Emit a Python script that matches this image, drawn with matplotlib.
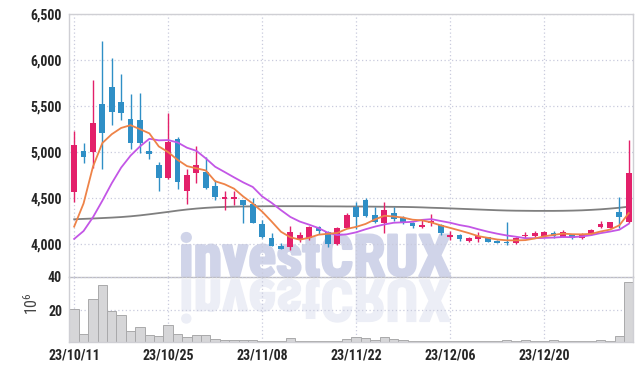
import numpy as np
import matplotlib
matplotlib.use("Agg")
import matplotlib.pyplot as plt
from matplotlib import font_manager
from matplotlib import patheffects
from matplotlib.textpath import TextPath
from matplotlib.patches import PathPatch
from matplotlib.font_manager import FontProperties
from matplotlib.transforms import Affine2D
from matplotlib.ticker import FuncFormatter

# daily candles
opens = [4566, 5005, 4999, 5525, 5706, 5546, 5361, 5350, 5013, 4860,
         4722, 5143, 4580, 4776, 4787, 4635, 4490, 4490, 4479, 4436,
         4218, 4069, 3978, 3964, 4054, 4062, 4182, 4134, 4000, 4178,
         4406, 4479, 4316, 4225, 4341, 4280, 4225, 4182, 4232, 4207,
         4080, 4098, 4036, 4051, 4073, 4033, 4025, 4007, 4087, 4087,
         4087, 4123, 4080, 4098, 4069, 4105, 4182, 4178, 4352, 4243]
closes = [5078, 4940, 5314, 5201, 5430, 5419, 5092, 5092, 4977, 4722,
          5107, 4672, 4751, 4860, 4606, 4515, 4515, 4510, 4425, 4232,
          4073, 3981, 3949, 4127, 4098, 4182, 4145, 4000, 4171, 4316,
          4291, 4308, 4243, 4370, 4276, 4232, 4196, 4207, 4254, 4116,
          4098, 4054, 4065, 4087, 4025, 4011, 4007, 4062, 4098, 4116,
          4127, 4087, 4134, 4062, 4109, 4152, 4218, 4236, 4297, 4770]
highs = [5223, 5097, 5786, 6203, 6022, 5848, 5630, 5641, 5122, 4896,
         5423, 5165, 4813, 5070, 4944, 4697, 4580, 4570, 4479, 4497,
         4261, 4116, 4014, 4196, 4127, 4196, 4196, 4145, 4180, 4341,
         4454, 4497, 4400, 4454, 4400, 4300, 4243, 4261, 4327, 4220,
         4145, 4105, 4080, 4134, 4080, 4040, 4236, 4073, 4134, 4140,
         4135, 4135, 4150, 4110, 4120, 4160, 4254, 4240, 4515, 5133]
lows = [4461, 4879, 4824, 4817, 5288, 5350, 5035, 4988, 4926, 4580,
        4710, 4599, 4436, 4661, 4595, 4472, 4370, 4425, 4225, 4232,
        4060, 3975, 3945, 3935, 4025, 4044, 4109, 3971, 3990, 4170,
        4160, 4290, 4225, 4116, 4250, 4220, 4171, 4170, 4196, 4098,
        4044, 4033, 4025, 4025, 4020, 4005, 3992, 4000, 4069, 4075,
        4070, 4065, 4070, 4055, 4051, 4100, 4175, 4170, 4171, 4230]

ma5 = [4188, 4440, 4840, 5097, 5193, 5261, 5291, 5247, 5202, 5060,
       4998, 4914, 4846, 4822, 4799, 4681, 4649, 4601, 4514, 4439,
       4351, 4244, 4132, 4072, 4046, 4067, 4100, 4110, 4119, 4163,
       4185, 4217, 4266, 4306, 4298, 4286, 4263, 4256, 4233, 4201,
       4174, 4146, 4117, 4084, 4066, 4048, 4039, 4038, 4041, 4059,
       4082, 4098, 4112, 4105, 4104, 4109, 4135, 4155, 4202, 4335]
ma10 = [4054, 4140, 4290, 4470, 4660, 4830, 4960, 5060, 5143, 5126,
        5129, 5103, 5046, 5012, 4930, 4839, 4782, 4724, 4668, 4619,
        4516, 4447, 4367, 4293, 4243, 4209, 4172, 4121, 4096, 4104,
        4126, 4159, 4188, 4212, 4230, 4235, 4240, 4261, 4269, 4249,
        4230, 4205, 4187, 4159, 4133, 4111, 4092, 4078, 4062, 4062,
        4065, 4069, 4075, 4073, 4081, 4095, 4117, 4134, 4154, 4219]
ma_long = [4268, 4272, 4276, 4281, 4286, 4292, 4300, 4310, 4322, 4335,
           4348, 4362, 4374, 4384, 4392, 4398, 4402, 4405, 4407, 4408,
           4409, 4410, 4410, 4410, 4410, 4410, 4409, 4408, 4408, 4407,
           4407, 4406, 4405, 4404, 4403, 4402, 4400, 4397, 4393, 4390,
           4386, 4382, 4378, 4374, 4370, 4366, 4363, 4361, 4360, 4359,
           4359, 4359, 4360, 4362, 4365, 4370, 4376, 4384, 4393, 4405]

# volume in millions
volume = [21.0, 6.0, 27.0, 35.4, 19.4, 17.0, 7.4, 9.8, 5.0, 4.4,
          11.0, 5.6, 4.0, 5.0, 5.0, 2.6, 2.3, 2.3, 2.2, 2.0,
          1.9, 1.8, 1.8, 3.5, 1.8, 1.8, 1.6, 1.8, 1.8, 2.8,
          4.0, 3.4, 2.2, 4.0, 2.6, 2.0, 1.6, 1.8, 1.8, 1.8,
          1.5, 1.5, 1.5, 1.5, 1.4, 1.4, 2.2, 1.4, 2.2, 1.4,
          1.4, 2.2, 1.4, 1.4, 1.4, 1.4, 2.0, 1.4, 4.6, 37.0]

tick_pos = [0, 10, 20, 30, 40, 50]
tick_labels = ["23/10/11", "23/10/25", "23/11/08", "23/11/22", "23/12/06", "23/12/20"]

UP = "#e3206a"
DOWN = "#2f8fc6"
GRID = "#c9cbdd"
WM = "#d0d4e9"


def _w(v):
    try:
        return int(v)
    except (TypeError, ValueError):
        return font_manager.weight_dict.get(str(v), 400)


# first narrow-ish family that really has a bold face
bold_fams = {f.name for f in font_manager.fontManager.ttflist if _w(f.weight) >= 600}
FONT = ["DejaVu Sans"]
for fam in ["Liberation Sans Narrow", "Roboto Condensed", "Liberation Sans", "Roboto",
            "Lato", "Inter", "Open Sans", "Noto Sans"]:
    if fam in bold_fams:
        FONT = [fam, "DejaVu Sans"]
        break

plt.rcParams["font.family"] = FONT
plt.rcParams["font.weight"] = "bold"

x = np.arange(len(closes))
o = np.array(opens)
c = np.array(closes)
up = c >= o
colors = np.where(up, UP, DOWN)

fig = plt.figure(figsize=(6.43, 3.70), dpi=100)
fig.patch.set_facecolor("white")
L, R = 69 / 643, 633 / 643
ax = fig.add_axes([L, 1 - 277 / 370, R - L, (277 - 14) / 370])
axv = fig.add_axes([L, 1 - 342 / 370, R - L, (342 - 277) / 370], sharex=ax)
for a in (ax, axv):
    a.set_facecolor("none")

# watermark + reflection
wm_font = FontProperties(family=FONT, weight="bold")
base = TextPath((0, 0), "investCRUX", size=100, prop=wm_font)
wm_px = min(100 * 280.0 / base.get_extents().width, 58)
wm = fig.text(179 / 643, 1 - 276 / 370, "investCRUX", fontproperties=wm_font,
              fontsize=wm_px * 72 / 100, color=WM, va="baseline", ha="left", zorder=-2)
wm.set_path_effects([patheffects.withStroke(linewidth=1.8, foreground=WM)])
tp = TextPath((0, 0), "investCRUX", size=wm_px, prop=wm_font)
refl = PathPatch(tp, transform=Affine2D().scale(1, -1).translate(179, 370 - 280),
                 facecolor="#eceef6", edgecolor="#eceef6", linewidth=1.2, zorder=-2)
fig.add_artist(refl)

# candles
ax.vlines(x, lows, highs, colors=colors, linewidth=1, zorder=3)
ax.bar(x, np.abs(c - o), bottom=np.minimum(o, c), width=0.62, color=colors,
       linewidth=0, zorder=4)
ax.plot(x, ma_long, color="#7f7f7f", linewidth=1.3, zorder=2)
ax.plot(x, ma10, color="#c356e6", linewidth=1.3, zorder=5)
ax.plot(x, ma5, color="#ee8348", linewidth=1.3, zorder=6)

ax.set_ylim(3640, 6500)
ax.set_yticks([4000, 4500, 5000, 5500, 6000, 6500])
ax.yaxis.set_major_formatter(FuncFormatter(lambda v, p: f"{int(v):,}"))
ax.set_xlim(-0.55, 59.45)

# volume
axv.bar(x, volume, width=1.0, color="#d6d6d8", edgecolor="#a9a9ab", linewidth=0.7, zorder=2)
axv.set_ylim(1, 40)
axv.set_yticks([20, 40])
axv.set_xticks(tick_pos)
axv.set_xticklabels(tick_labels)
fig.text(32 / 643, 1 - 304 / 370, r"$\mathregular{10^6}$", rotation=90, fontsize=11.5,
         fontweight="normal", color="#444444", ha="center", va="center")

for a in (ax, axv):
    a.grid(True, color=GRID, linestyle=(0, (1, 2)), linewidth=0.9, zorder=0)
    a.tick_params(length=0, labelsize=10, labelcolor="#262626", pad=5)
    for s in a.spines.values():
        s.set_color("#cfcfd4")
        s.set_linewidth(1.0)
ax.tick_params(labelbottom=False)
ax.spines["bottom"].set_color("#bdbdc2")
axv.spines["top"].set_visible(False)

fig.savefig("out.png", dpi=100)
